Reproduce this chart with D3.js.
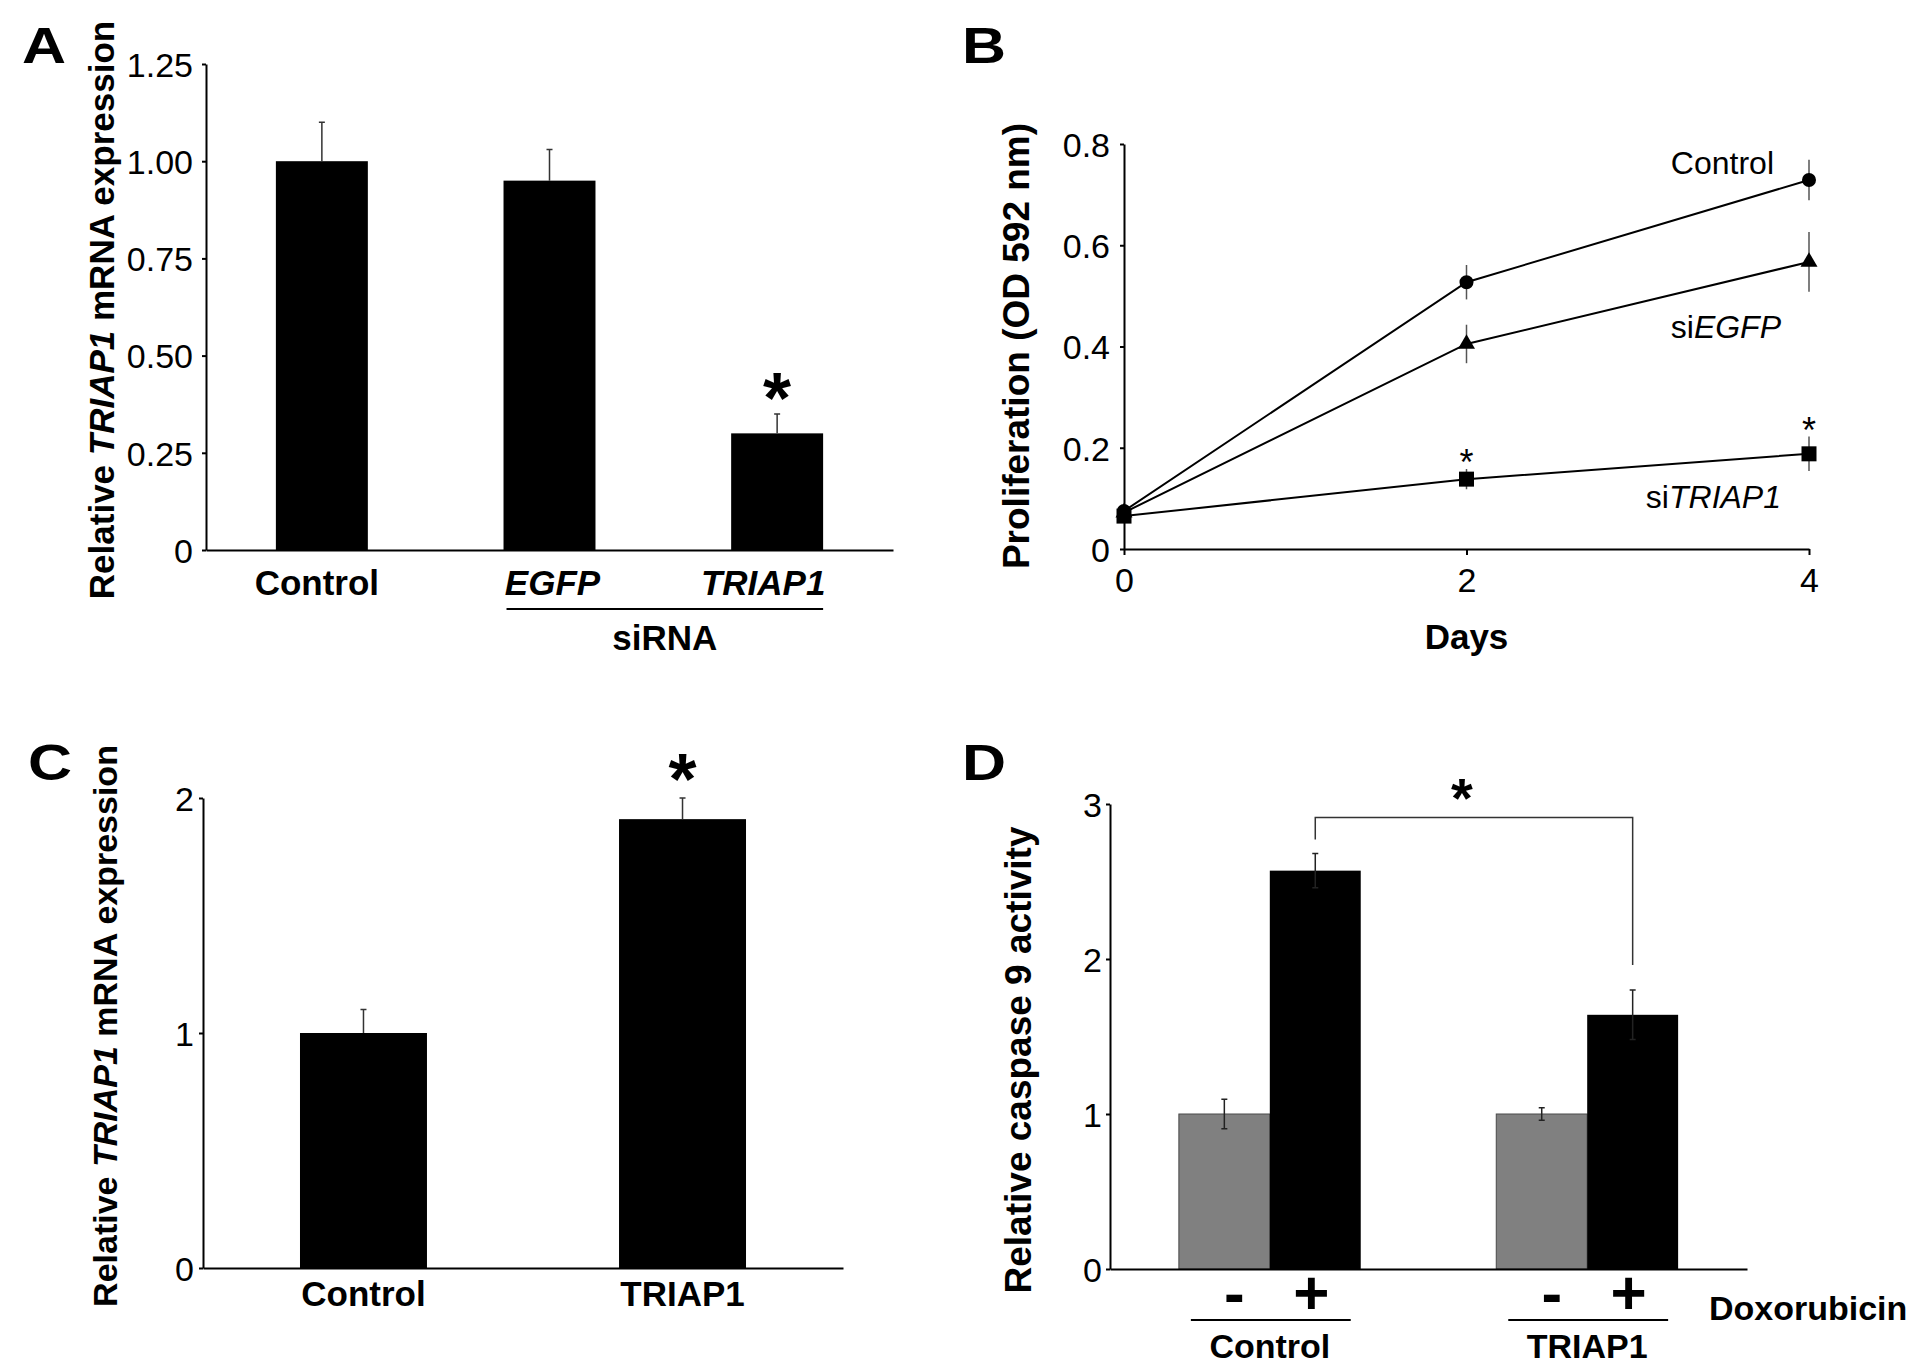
<!DOCTYPE html>
<html>
<head>
<meta charset="utf-8">
<script src="https://cdn.jsdelivr.net/npm/d3@7"></script>
<style>
  body { margin: 0; background: #fff; }
  svg { display: block; }
</style>
</head>
<body>
<svg id="fig" width="1913" height="1364"></svg>
<script>
// ---- panel A : knockdown ----
const knockdownGroups = ['Control', 'EGFP', 'TRIAP1'];
const knockdownExpr = [1.00, 0.95, 0.30];
const knockdownErr = [0.10, 0.08, 0.05];
const knockdownTicks = [0, 0.25, 0.5, 0.75, 1.0, 1.25];
const knockdownTickLabels = ['0', '0.25', '0.50', '0.75', '1.00', '1.25'];

// ---- panel B : proliferation ----
const days = [0, 2, 4];
const controlOD = [0.075, 0.527, 0.729];
const controlErr = [0.006, 0.034, 0.040];
const siEGFPOD = [0.072, 0.405, 0.567];
const siEGFPErr = [0.006, 0.038, 0.059];
const siTRIAP1OD = [0.065, 0.138, 0.188];
const siTRIAP1Err = [0.006, 0.020, 0.034];
const odTicks = [0, 0.2, 0.4, 0.6, 0.8];
const odTickLabels = ['0', '0.2', '0.4', '0.6', '0.8'];
const significantDays = [2, 4];

// ---- panel C : overexpression ----
const overGroups = ['Control', 'TRIAP1'];
const overExpr = [1.00, 1.91];
const overErr = [0.10, 0.09];
const overTicks = [0, 1, 2];

// ---- panel D : caspase 9 ----
const caspGroups = ['Control', 'TRIAP1'];
const doxoLevels = ['-', '+'];
const caspControl = [1.00, 2.57];
const caspControlErr = [0.095, 0.11];
const caspTRIAP1 = [1.00, 1.64];
const caspTRIAP1Err = [0.04, 0.16];
const caspTicks = [0, 1, 2, 3];

const FONT = '"Liberation Sans", Arial, Helvetica, sans-serif';
const svg = d3.select('#fig').attr('font-family', FONT);
svg.append('rect').attr('width', 1913).attr('height', 1364).attr('fill', '#fff');

function yAxis(g, scale, ticks, labels, pad){
  g.call(d3.axisLeft(scale)
      .tickValues(ticks)
      .tickFormat((d, i) => labels[i])
      .tickSize(4)
      .tickSizeOuter(0)
      .tickPadding(pad));
  g.attr('font-family', FONT).attr('font-size', 34);
  g.select('.domain').attr('stroke-width', 2);
  g.selectAll('.tick line').attr('stroke-width', 2);
  g.selectAll('.tick text').attr('dy', '0.36em').attr('fill', '#000');
}

function baseLine(g, scale){
  g.call(d3.axisBottom(scale).tickSize(0).tickSizeOuter(0).tickFormat(''));
  g.select('.domain').attr('stroke-width', 2);
}

function panelLetter(letter, x, y){
  svg.append('text')
    .attr('transform', `translate(${x},${y}) scale(1.22,1)`)
    .attr('font-size', 50)
    .attr('font-weight', 'bold')
    .text(letter);
}

function yLabel(x, y, size, parts){
  const t = svg.append('text')
    .attr('transform', `translate(${x},${y}) rotate(-90)`)
    .attr('text-anchor', 'middle')
    .attr('font-size', size)
    .attr('font-weight', 'bold');
  parts.forEach(p => {
    t.append('tspan').attr('font-style', p.italic ? 'italic' : 'normal').text(p.text);
  });
}

function star(x, cy, size, bold){
  // cy is the visual centre of the asterisk
  svg.append('text')
    .attr('x', x)
    .attr('y', cy + 0.59 * size)
    .attr('text-anchor', 'middle')
    .attr('font-size', size)
    .attr('font-weight', bold ? 'bold' : 'normal')
    .text('*');
}

// =================== A ===================
panelLetter('A', 22, 63);
const xA = d3.scaleBand().domain(knockdownGroups).range([206, 893]).paddingInner(0.596).paddingOuter(0.307);
const yA = d3.scaleLinear().domain([0, 1.25]).range([550, 64]);
const gA = svg.append('g');

gA.selectAll('.bar').data(knockdownGroups).join('rect')
  .attr('class', 'bar')
  .attr('x', d => xA(d))
  .attr('width', xA.bandwidth())
  .attr('y', (d, i) => yA(knockdownExpr[i]))
  .attr('height', (d, i) => yA(0) - yA(knockdownExpr[i]))
  .attr('fill', '#000');

gA.selectAll('.err').data(knockdownGroups).join('path')
  .attr('class', 'err')
  .attr('d', (d, i) => {
    const cx = xA(d) + xA.bandwidth() / 2;
    const top = yA(knockdownExpr[i] + knockdownErr[i]);
    return `M${cx},${yA(knockdownExpr[i])}V${top}M${cx - 3},${top}H${cx + 3}`;
  })
  .attr('stroke', '#333').attr('stroke-width', 1.5).attr('fill', 'none');

yAxis(svg.append('g').attr('transform', 'translate(206,0)'), yA, knockdownTicks, knockdownTickLabels, 9);
baseLine(svg.append('g').attr('transform', `translate(0,${yA(0)})`), xA);

const labelShiftA = [-5, 3, -14];
svg.append('g').selectAll('text').data(knockdownGroups).join('text')
  .attr('x', (d, i) => xA(d) + xA.bandwidth() / 2 + labelShiftA[i])
  .attr('y', yA(0) + 45)
  .attr('text-anchor', 'middle')
  .attr('font-size', 35)
  .attr('font-weight', 'bold')
  .attr('font-style', (d, i) => i > 0 ? 'italic' : 'normal')
  .text(d => d);

const siStart = xA('EGFP') + 3;
const siEnd = xA('TRIAP1') + xA.bandwidth();
svg.append('line')
  .attr('x1', siStart).attr('x2', siEnd)
  .attr('y1', yA(0) + 59).attr('y2', yA(0) + 59)
  .attr('stroke', '#000').attr('stroke-width', 2);
svg.append('text')
  .attr('x', (siStart + siEnd) / 2)
  .attr('y', yA(0) + 100)
  .attr('text-anchor', 'middle')
  .attr('font-size', 35)
  .attr('font-weight', 'bold')
  .text('siRNA');

star(xA('TRIAP1') + xA.bandwidth() / 2, yA(knockdownExpr[2] + knockdownErr[2]) - 33, 72, true);

yLabel(114, 310, 35, [{text: 'Relative '}, {text: 'TRIAP1', italic: true}, {text: ' mRNA expression'}]);

// =================== B ===================
panelLetter('B', 962, 63);
const xB = d3.scaleLinear().domain([0, 4]).range([1124, 1809]);
const yB = d3.scaleLinear().domain([0, 0.8]).range([549, 144]);

const seriesB = [
  {name: 'Control', values: controlOD, errs: controlErr, symbol: d3.symbolCircle, size: 154},
  {name: 'siEGFP', values: siEGFPOD, errs: siEGFPErr, symbol: d3.symbolTriangle, size: 125},
  {name: 'siTRIAP1', values: siTRIAP1OD, errs: siTRIAP1Err, symbol: d3.symbolSquare, size: 225}
];

yAxis(svg.append('g').attr('transform', 'translate(1124,0)'), yB, odTicks, odTickLabels, 10);
const gxB = svg.append('g').attr('transform', `translate(0,${yB(0)})`)
  .call(d3.axisBottom(xB).tickValues(days).tickFormat(d3.format('d')).tickSize(6).tickSizeOuter(0).tickPadding(13));
gxB.attr('font-family', FONT).attr('font-size', 34);
gxB.select('.domain').attr('stroke-width', 2);
gxB.selectAll('.tick line').attr('stroke-width', 2);

const line = d3.line().x((d, i) => xB(days[i])).y(d => yB(d));
const gB = svg.append('g');
seriesB.forEach(s => {
  gB.append('g').selectAll('line').data(s.values).join('line')
    .attr('x1', (d, i) => xB(days[i])).attr('x2', (d, i) => xB(days[i]))
    .attr('y1', (d, i) => yB(d - s.errs[i])).attr('y2', (d, i) => yB(d + s.errs[i]))
    .attr('stroke', '#555').attr('stroke-width', 1.5);
});
seriesB.forEach(s => {
  gB.append('path').datum(s.values)
    .attr('d', line)
    .attr('fill', 'none').attr('stroke', '#000').attr('stroke-width', 2);
});
seriesB.forEach(s => {
  gB.append('g').selectAll('path').data(s.values).join('path')
    .attr('transform', (d, i) => `translate(${xB(days[i])},${yB(d)})`)
    .attr('d', d3.symbol().type(s.symbol).size(s.size))
    .attr('fill', '#000');
});

// series labels
const labB = svg.append('g').attr('font-size', 32).attr('text-anchor', 'end');
labB.append('text').attr('x', xB(4) - 35).attr('y', yB(controlOD[2]) - 6).text('Control');
const tE = labB.append('text').attr('x', xB(4) - 28).attr('y', yB(siEGFPOD[2]) + 76);
tE.append('tspan').text('si');
tE.append('tspan').attr('font-style', 'italic').text('EGFP');
const tT = labB.append('text').attr('x', xB(4) - 28).attr('y', yB(siTRIAP1OD[2]) + 54);
tT.append('tspan').text('si');
tT.append('tspan').attr('font-style', 'italic').text('TRIAP1');

significantDays.forEach(d => {
  const i = days.indexOf(d);
  star(xB(d), yB(siTRIAP1OD[i] + siTRIAP1Err[i]) - 15, 36, false);
});

svg.append('text')
  .attr('x', xB(2)).attr('y', yB(0) + 100)
  .attr('text-anchor', 'middle')
  .attr('font-size', 35).attr('font-weight', 'bold')
  .text('Days');

yLabel(1029, 346, 37, [{text: 'Proliferation (OD 592 nm)'}]);

// =================== C ===================
panelLetter('C', 28, 780);
const xC = d3.scaleBand().domain(overGroups).range([203, 843]).paddingInner(0.602).paddingOuter(0.304);
const yC = d3.scaleLinear().domain([0, 2]).range([1268, 798]);
const gC = svg.append('g');

gC.selectAll('.bar').data(overGroups).join('rect')
  .attr('class', 'bar')
  .attr('x', d => xC(d))
  .attr('width', xC.bandwidth())
  .attr('y', (d, i) => yC(overExpr[i]))
  .attr('height', (d, i) => yC(0) - yC(overExpr[i]))
  .attr('fill', '#000');

gC.selectAll('.err').data(overGroups).join('path')
  .attr('class', 'err')
  .attr('d', (d, i) => {
    const cx = xC(d) + xC.bandwidth() / 2;
    const top = yC(overExpr[i] + overErr[i]);
    return `M${cx},${yC(overExpr[i])}V${top}M${cx - 3},${top}H${cx + 3}`;
  })
  .attr('stroke', '#333').attr('stroke-width', 1.5).attr('fill', 'none');

yAxis(svg.append('g').attr('transform', 'translate(203,0)'), yC, overTicks, overTicks.map(String), 5);
baseLine(svg.append('g').attr('transform', `translate(0,${yC(0)})`), xC);

svg.append('g').selectAll('text').data(overGroups).join('text')
  .attr('x', d => xC(d) + xC.bandwidth() / 2)
  .attr('y', yC(0) + 38)
  .attr('text-anchor', 'middle')
  .attr('font-size', 35)
  .attr('font-weight', 'bold')
  .text(d => d);

star(xC('TRIAP1') + xC.bandwidth() / 2, yC(overExpr[1] + overErr[1]) - 36, 72, true);

yLabel(117, 1026, 34, [{text: 'Relative '}, {text: 'TRIAP1', italic: true}, {text: ' mRNA expression'}]);

// =================== D ===================
panelLetter('D', 962, 780);
const xD = d3.scaleBand().domain(caspGroups).range([1110, 1747]).paddingInner(0.427).paddingOuter(0.217);
const xDsub = d3.scaleBand().domain(doxoLevels).range([0, xD.bandwidth()]).padding(0);
const yD = d3.scaleLinear().domain([0, 3]).range([1269, 804]);

const caspRows = [];
caspGroups.forEach((g, gi) => {
  const vals = gi === 0 ? caspControl : caspTRIAP1;
  const errs = gi === 0 ? caspControlErr : caspTRIAP1Err;
  doxoLevels.forEach((lv, li) => {
    caspRows.push({group: g, level: lv, value: vals[li], err: errs[li]});
  });
});
const cxD = r => xD(r.group) + xDsub(r.level) + xDsub.bandwidth() / 2;

const gD = svg.append('g');
gD.selectAll('.bar').data(caspRows).join('rect')
  .attr('class', 'bar')
  .attr('x', r => xD(r.group) + xDsub(r.level))
  .attr('width', xDsub.bandwidth())
  .attr('y', r => yD(r.value))
  .attr('height', r => yD(0) - yD(r.value))
  .attr('fill', r => r.level === '-' ? '#808080' : '#000')
  .attr('stroke', r => r.level === '-' ? '#4a4a4a' : 'none')
  .attr('stroke-width', 1);

gD.selectAll('.err').data(caspRows).join('path')
  .attr('class', 'err')
  .attr('d', r => {
    const cx = cxD(r);
    const lo = yD(r.value - r.err), hi = yD(r.value + r.err);
    return `M${cx},${lo}V${hi}M${cx - 3},${hi}H${cx + 3}M${cx - 3},${lo}H${cx + 3}`;
  })
  .attr('stroke', '#222').attr('stroke-width', 1.5).attr('fill', 'none');

yAxis(svg.append('g').attr('transform', 'translate(1110,0)'), yD, caspTicks, caspTicks.map(String), 4);
baseLine(svg.append('g').attr('transform', `translate(0,${yD(0)})`), xD);

// significance bracket between the two doxorubicin bars
const plusCtrl = caspRows.find(r => r.group === 'Control' && r.level === '+');
const plusTri = caspRows.find(r => r.group === 'TRIAP1' && r.level === '+');
const legL = yD(plusCtrl.value + plusCtrl.err) - 14;
const legR = yD(plusTri.value + plusTri.err) - 25;
const brTop = legL - 22;
svg.append('path')
  .attr('d', `M${cxD(plusCtrl)},${legL}V${brTop}H${cxD(plusTri)}V${legR}`)
  .attr('fill', 'none').attr('stroke', '#333').attr('stroke-width', 1.5);
star((cxD(plusCtrl) + cxD(plusTri)) / 2 - 12, brTop - 34, 56, true);

// - / + labels
svg.append('g').selectAll('text').data(caspRows).join('text')
  .attr('x', r => cxD(r) + (r.level === '-' ? 10 : -4))
  .attr('y', yD(0) + 45)
  .attr('text-anchor', 'middle')
  .attr('font-size', 62)
  .attr('font-weight', 'bold')
  .text(r => r.level);

svg.append('g').selectAll('line').data(caspGroups).join('line')
  .attr('x1', g => xD(g) + 12).attr('x2', g => xD(g) + xD.bandwidth() - 10)
  .attr('y1', yD(0) + 51).attr('y2', yD(0) + 51)
  .attr('stroke', '#000').attr('stroke-width', 2);

svg.append('g').selectAll('text.grp').data(caspGroups).join('text')
  .attr('class', 'grp')
  .attr('x', g => xD(g) + xD.bandwidth() / 2)
  .attr('y', yD(0) + 89)
  .attr('text-anchor', 'middle')
  .attr('font-size', 34)
  .attr('font-weight', 'bold')
  .text(g => g);

svg.append('text')
  .attr('x', xD.range()[1] - 38).attr('y', yD(0) + 51)
  .attr('font-size', 34).attr('font-weight', 'bold')
  .text('Doxorubicin');

yLabel(1031, 1060, 37, [{text: 'Relative caspase 9 activity'}]);
</script>
</body>
</html>
